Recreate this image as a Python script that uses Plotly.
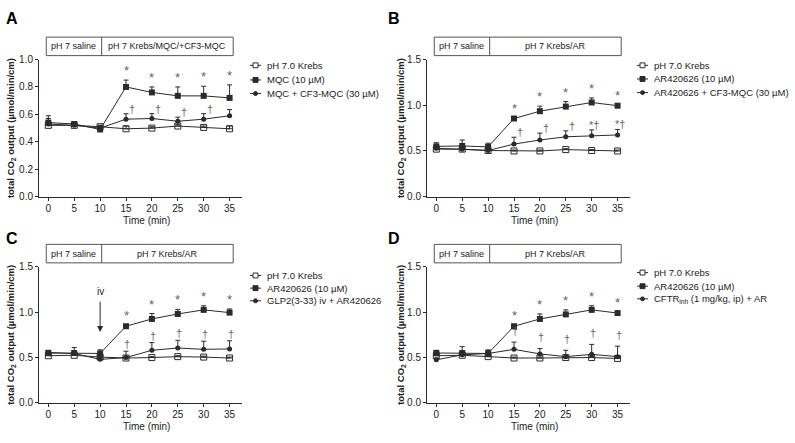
import plotly.graph_objects as go

W, H = 795, 443
def px(x): return x / W
def py(y): return 1 - y / H

time = [0, 5, 10, 15, 20, 25, 30, 35]
x_ticks = [0, 5, 10, 15, 20, 25, 30, 35]

# Panel A
krebs_A = [0.52, 0.52, 0.51, 0.495, 0.50, 0.515, 0.505, 0.495]
krebs_A_err = [0.02, 0.01, 0.01, 0.02, 0.01, 0.01, 0.01, 0.02]
mqc_A = [0.54, 0.53, 0.49, 0.80, 0.76, 0.735, 0.735, 0.72]
mqc_A_err = [0.05, 0.015, 0.02, 0.05, 0.04, 0.065, 0.07, 0.095]
cf3_A = [0.53, 0.52, 0.50, 0.565, 0.57, 0.55, 0.565, 0.59]
cf3_A_err = [0.04, 0.02, 0.02, 0.04, 0.035, 0.03, 0.04, 0.045]
sig_A = ['', '', '', '*', '*', '*', '*', '*']
dag_A = ['', '', '', '†', '†', '†', '†', '']

# Panel B
krebs_B = [0.52, 0.52, 0.505, 0.50, 0.50, 0.515, 0.505, 0.50]
krebs_B_err = [0.02, 0.01, 0.01, 0.01, 0.01, 0.01, 0.01, 0.01]
ar_B = [0.55, 0.555, 0.545, 0.855, 0.935, 0.985, 1.03, 0.995]
ar_B_err = [0.04, 0.065, 0.04, 0.01, 0.055, 0.055, 0.05, 0.01]
cf3_B = [0.53, 0.52, 0.505, 0.575, 0.62, 0.655, 0.665, 0.675]
cf3_B_err = [0.03, 0.02, 0.02, 0.075, 0.075, 0.065, 0.065, 0.06]
sig_B = ['', '', '', '*', '*', '*', '*', '*']
dag_B = ['', '', '', '†', '†', '†', '*†', '*†']

# Panel C
krebs_C = [0.52, 0.525, 0.505, 0.495, 0.50, 0.51, 0.505, 0.495]
krebs_C_err = [0.02, 0.01, 0.01, 0.01, 0.01, 0.01, 0.01, 0.01]
ar_C = [0.55, 0.55, 0.545, 0.845, 0.925, 0.98, 1.025, 0.995]
ar_C_err = [0.03, 0.06, 0.04, 0.01, 0.06, 0.05, 0.045, 0.04]
glp_C = [0.555, 0.545, 0.48, 0.50, 0.58, 0.605, 0.59, 0.595]
glp_C_err = [0.02, 0.03, 0.02, 0.07, 0.085, 0.085, 0.09, 0.09]
sig_C = ['', '', '', '*', '*', '*', '*', '*']
dag_C = ['', '', '', '†', '†', '†', '†', '†']

# Panel D
krebs_D = [0.52, 0.525, 0.51, 0.495, 0.495, 0.50, 0.50, 0.49]
krebs_D_err = [0.02, 0.01, 0.01, 0.01, 0.01, 0.01, 0.01, 0.01]
ar_D = [0.55, 0.55, 0.545, 0.845, 0.925, 0.975, 1.025, 0.99]
ar_D_err = [0.03, 0.07, 0.04, 0.01, 0.055, 0.05, 0.045, 0.01]
cftr_D = [0.475, 0.53, 0.545, 0.59, 0.54, 0.51, 0.535, 0.51]
cftr_D_err = [0.02, 0.03, 0.03, 0.08, 0.06, 0.07, 0.11, 0.115]
sig_D = ['', '', '', '*', '*', '*', '*', '*']
dag_D = ['', '', '', '†', '†', '†', '†', '†']

legend_A = ['pH 7.0 Krebs', 'MQC (10 µM)', 'MQC + CF3-MQC (30 µM)']
legend_B = ['pH 7.0 Krebs', 'AR420626 (10 µM)', 'AR420626 + CF3-MQC (30 µM)']
legend_C = ['pH 7.0 Krebs', 'AR420626 (10 µM)', 'GLP2(3-33) iv + AR420626']
legend_D = ['pH 7.0 Krebs', 'AR420626 (10 µM)', 'CFTR<sub>inh</sub> (1 mg/kg, ip) + AR']

header_A = ['pH 7 saline', 'pH 7 Krebs/MQC/+CF3-MQC']
header_B = ['pH 7 saline', 'pH 7 Krebs/AR']
header_C = ['pH 7 saline', 'pH 7 Krebs/AR']
header_D = ['pH 7 saline', 'pH 7 Krebs/AR']

FONT = 'Arial, Liberation Sans, sans-serif'
LC = '#2b2b2b'
SC = '#666666'

fig = go.Figure()

panels = [
    dict(letter='A', xa='x', ya='y', xl=39, yt=55, yb=196, ymax=1.0, dtick=0.2,
         series=[(krebs_A, krebs_A_err), (mqc_A, mqc_A_err), (cf3_A, cf3_A_err)],
         sig=sig_A, dag=dag_A, dag_dx=6, dag_dy=3, legend=legend_A, header=header_A,
         leg_x=250, leg_y=[61, 76, 90], letter_xy=(12, 13), ytitle_x=11),
    dict(letter='B', xa='x2', ya='y2', xl=427, yt=55, yb=196, ymax=1.5, dtick=0.5,
         series=[(krebs_B, krebs_B_err), (ar_B, ar_B_err), (cf3_B, cf3_B_err)],
         sig=sig_B, dag=dag_B, dag_dx=6, dag_dy=3, legend=legend_B, header=header_B,
         leg_x=637, leg_y=[61, 75, 89], letter_xy=(394, 13), ytitle_x=401),
    dict(letter='C', xa='x3', ya='y3', xl=39, yt=268, yb=408, ymax=1.5, dtick=0.5,
         series=[(krebs_C, krebs_C_err), (ar_C, ar_C_err), (glp_C, glp_C_err)],
         sig=sig_C, dag=dag_C, dag_dx=1, dag_dy=5, legend=legend_C, header=header_C,
         leg_x=250, leg_y=[277, 290, 303], letter_xy=(12, 239), ytitle_x=11),
    dict(letter='D', xa='x4', ya='y4', xl=427, yt=268, yb=408, ymax=1.5, dtick=0.5,
         series=[(krebs_D, krebs_D_err), (ar_D, ar_D_err), (cftr_D, cftr_D_err)],
         sig=sig_D, dag=dag_D, dag_dx=1, dag_dy=9, legend=legend_D, header=header_D,
         leg_x=637, leg_y=[274, 288, 301], letter_xy=(394, 239), ytitle_x=401),
]

marker_styles = [
    dict(symbol='square-open', size=6, color=LC, line=dict(width=1, color=LC)),
    dict(symbol='square', size=6, color=LC),
    dict(symbol='circle', size=5, color=LC),
]

annotations = []
shapes = []
layout_axes = {}

def txt(**kw):
    d = dict(showarrow=False, xanchor='center', yanchor='middle')
    d.update(kw)
    return d

for i, p in enumerate(panels):
    xa, ya = p['xa'], p['ya']
    for k in [0, 2, 1]:
        vals, err = p['series'][k]
        fig.add_trace(go.Scatter(
            x=time, y=vals, mode='lines+markers', xaxis=xa, yaxis=ya,
            line=dict(color=LC, width=1), marker=marker_styles[k],
            error_y=dict(type='data', symmetric=False, array=err,
                         arrayminus=[0] * len(err), color=LC, thickness=1, width=2.5),
            showlegend=False, cliponaxis=False))
    xname = 'xaxis' if xa == 'x' else 'xaxis' + xa[1:]
    yname = 'yaxis' if ya == 'y' else 'yaxis' + ya[1:]
    axcommon = dict(showline=True, linecolor=LC, linewidth=1, ticks='outside',
                    ticklen=3, tickwidth=1, tickcolor=LC, showgrid=False, zeroline=False,
                    tickfont=dict(family=FONT, size=10, color='#222'))
    layout_axes[xname] = dict(domain=[px(p['xl']), px(p['xl'] + 203)], anchor=ya,
                              range=[-1.8, 37.4], tickvals=x_ticks,
                              ticklabelstandoff=-1, **axcommon)
    layout_axes[yname] = dict(domain=[py(p['yb']), py(p['yt'])], anchor=xa,
                              range=[0, p['ymax']], dtick=p['dtick'], tickformat='.1f',
                              **axcommon)
    # significance marks
    ar_vals, ar_err = p['series'][1]
    t_vals, t_err = p['series'][2]
    for j, t in enumerate(time):
        if p['sig'][j]:
            annotations.append(txt(x=t, y=ar_vals[j] + ar_err[j], xref=xa, yref=ya,
                                   text=p['sig'][j], yanchor='bottom', yshift=0,
                                   font=dict(family=FONT, size=13, color=SC)))
        if p['dag'][j]:
            dx = p['dag_dx'] if len(p['dag'][j]) == 1 else 2
            annotations.append(txt(x=t, y=t_vals[j] + t_err[j], xref=xa, yref=ya,
                                   text=p['dag'][j], yanchor='bottom',
                                   xshift=dx, yshift=p['dag_dy'] - 6,
                                   font=dict(family=FONT, size=11, color=SC)))
    # header box
    hy0, hy1 = p['yt'] - 23, p['yt'] - 4
    shapes.append(dict(type='rect', xref=xa, yref='paper', x0=-0.4, x1=35.7,
                       y0=py(hy1), y1=py(hy0), line=dict(color='#555', width=1)))
    shapes.append(dict(type='line', xref=xa, yref='paper', x0=10.3, x1=10.3,
                       y0=py(hy1), y1=py(hy0), line=dict(color='#555', width=1)))
    annotations.append(txt(x=4.95, y=py((hy0 + hy1) / 2), xref=xa, yref='paper',
                           text=p['header'][0], font=dict(family=FONT, size=9, color='#222')))
    annotations.append(txt(x=23.0, y=py((hy0 + hy1) / 2), xref=xa, yref='paper',
                           text=p['header'][1], font=dict(family=FONT, size=9, color='#222')))
    # panel letter
    lxy = p['letter_xy']
    annotations.append(txt(x=px(lxy[0]), y=py(lxy[1]), xref='paper', yref='paper',
                           text='<b>%s</b>' % p['letter'],
                           font=dict(family=FONT, size=16, color='#000')))
    # y title
    annotations.append(txt(x=px(p['ytitle_x']), y=py((p['yt'] + p['yb']) / 2),
                           xref='paper', yref='paper', textangle=-90,
                           text='<b>total CO<sub>2</sub> output (µmol/min/cm)</b>',
                           font=dict(family=FONT, size=9.5, color='#222')))
    # x title
    annotations.append(txt(x=px(p['xl'] + 107), y=py(p['yb'] + 24), xref='paper', yref='paper',
                           text='Time (min)', font=dict(family=FONT, size=10, color='#222')))
    # legend (manual)
    lx = p['leg_x']
    for k in range(3):
        ly = p['leg_y'][k]
        shapes.append(dict(type='line', xref='paper', yref='paper', x0=px(lx), x1=px(lx + 11),
                           y0=py(ly), y1=py(ly), line=dict(color=LC, width=1)))
        cx = lx + 5.5
        if k == 0:
            shapes.append(dict(type='rect', xref='paper', yref='paper', x0=px(cx - 2.5),
                               x1=px(cx + 2.5), y0=py(ly + 2.5), y1=py(ly - 2.5),
                               fillcolor='white', line=dict(color=LC, width=1)))
        elif k == 1:
            shapes.append(dict(type='rect', xref='paper', yref='paper', x0=px(cx - 2.5),
                               x1=px(cx + 2.5), y0=py(ly + 2.5), y1=py(ly - 2.5),
                               fillcolor=LC, line=dict(color=LC, width=1)))
        else:
            shapes.append(dict(type='circle', xref='paper', yref='paper', x0=px(cx - 2),
                               x1=px(cx + 2), y0=py(ly + 2), y1=py(ly - 2),
                               fillcolor=LC, line=dict(color=LC, width=1)))
        annotations.append(txt(x=px(lx + 15), y=py(ly), xref='paper', yref='paper',
                               xanchor='left', text=p['legend'][k],
                               font=dict(family=FONT, size=9.5, color='#222')))

# iv arrow in panel C
annotations.append(dict(x=10, y=0.78, ax=10, ay=1.13, xref='x3', yref='y3',
                        axref='x3', ayref='y3', text='', showarrow=True,
                        arrowhead=2, arrowsize=1.2, arrowwidth=1, arrowcolor=LC))
annotations.append(txt(x=10, y=1.13, xref='x3', yref='y3', text='iv',
                       yanchor='bottom', yshift=1, font=dict(family=FONT, size=10, color='#222')))

fig.update_layout(width=W, height=H, margin=dict(l=0, r=0, t=0, b=0),
                  paper_bgcolor='white', plot_bgcolor='white',
                  annotations=annotations, shapes=shapes, **layout_axes)

fig.write_html('out.html', config={'displayModeBar': False},
               post_script="document.body.style.margin='0px';")
